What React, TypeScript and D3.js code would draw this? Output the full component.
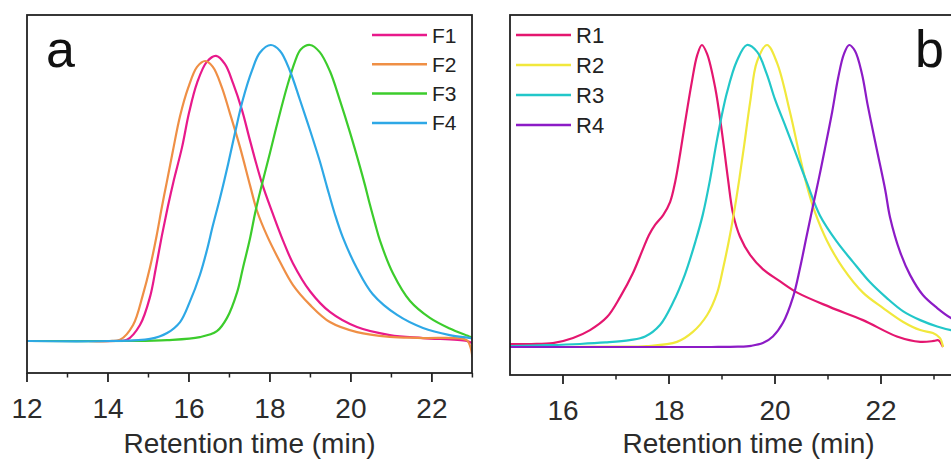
import React from "react";
import * as d3 from "d3";

type Pt = [number, number];

// Panel a series: [retention time (min), normalized signal]
const F1: Pt[] = [[12,0],[13.5,0],[14.2,0.0],[14.47,0.004],[14.79,0.054],[15.04,0.15],[15.18,0.245],[15.33,0.355],[15.48,0.455],[15.62,0.54],[15.83,0.655],[16.0,0.77],[16.2,0.872],[16.44,0.943],[16.67,0.963],[16.89,0.935],[17.09,0.87],[17.31,0.78],[17.51,0.676],[17.8,0.534],[18.07,0.43],[18.32,0.34],[18.57,0.262],[18.99,0.168],[19.48,0.098],[20.15,0.047],[20.96,0.02],[21.78,0.01],[22.86,0.0],[23.0,-0.008]];
const F2: Pt[] = [[12,0],[13.5,0],[14.05,0.0],[14.3,0.004],[14.62,0.054],[14.86,0.155],[15.04,0.25],[15.2,0.355],[15.33,0.452],[15.45,0.535],[15.6,0.64],[15.78,0.76],[15.98,0.855],[16.2,0.926],[16.4,0.946],[16.59,0.926],[16.81,0.858],[17.01,0.77],[17.26,0.655],[17.51,0.525],[17.68,0.44],[17.93,0.355],[18.25,0.267],[18.57,0.189],[18.99,0.122],[19.48,0.064],[20.15,0.03],[20.96,0.014],[21.78,0.01],[22.86,0.003],[22.95,-0.02],[23.0,-0.055]];
const F3: Pt[] = [[12,0],[14.5,0],[15.46,0.003],[16.27,0.013],[16.69,0.033],[16.94,0.078],[17.19,0.165],[17.33,0.245],[17.51,0.348],[17.63,0.43],[17.75,0.5],[17.85,0.555],[18.0,0.635],[18.2,0.745],[18.42,0.858],[18.62,0.945],[18.76,0.985],[18.99,1.0],[19.23,0.976],[19.48,0.912],[19.73,0.812],[19.98,0.703],[20.22,0.59],[20.35,0.525],[20.47,0.46],[20.6,0.395],[20.72,0.338],[21.04,0.228],[21.46,0.135],[21.95,0.078],[22.44,0.042],[22.94,0.014],[23.0,0.01]];
const F4: Pt[] = [[12,0],[14.0,0],[15.04,0.007],[15.46,0.027],[15.78,0.064],[16.02,0.132],[16.27,0.223],[16.44,0.305],[16.59,0.39],[16.77,0.485],[16.97,0.6],[17.14,0.705],[17.33,0.815],[17.56,0.915],[17.75,0.974],[18.02,1.0],[18.25,0.98],[18.49,0.914],[18.74,0.815],[18.99,0.712],[19.23,0.608],[19.41,0.52],[19.6,0.43],[19.8,0.35],[20.15,0.245],[20.54,0.158],[21.14,0.088],[21.78,0.044],[22.44,0.02],[22.94,0.01],[23.0,0.008]];

// Panel b series
const R1: Pt[] = [[15.0,0.01],[15.4,0.01],[15.81,0.013],[16.19,0.03],[16.51,0.056],[16.83,0.099],[17.08,0.166],[17.32,0.245],[17.51,0.325],[17.62,0.37],[17.74,0.405],[17.89,0.437],[18.02,0.48],[18.12,0.55],[18.21,0.64],[18.3,0.74],[18.43,0.877],[18.53,0.965],[18.62,1.0],[18.72,0.97],[18.87,0.86],[19.0,0.71],[19.11,0.56],[19.21,0.44],[19.34,0.365],[19.53,0.305],[19.77,0.258],[20.09,0.218],[20.42,0.18],[21.04,0.132],[21.66,0.089],[22.3,0.035],[22.74,0.017],[23.0,0.02],[23.08,0.022],[23.17,0.0]];
const R2: Pt[] = [[15.0,0.0],[16.0,0.0],[17.0,0.001],[17.58,0.003],[18.15,0.017],[18.45,0.05],[18.72,0.106],[18.91,0.18],[19.02,0.26],[19.15,0.37],[19.25,0.47],[19.33,0.56],[19.42,0.67],[19.53,0.81],[19.66,0.945],[19.85,1.0],[20.04,0.94],[20.28,0.78],[20.47,0.63],[20.6,0.535],[20.75,0.448],[20.98,0.352],[21.28,0.262],[21.66,0.18],[22.04,0.129],[22.42,0.083],[22.74,0.056],[22.98,0.046],[23.11,0.03],[23.17,0.0]];
const R3: Pt[] = [[15.0,0.003],[15.7,0.006],[16.32,0.01],[16.8,0.015],[17.26,0.023],[17.55,0.035],[17.83,0.073],[18.08,0.149],[18.3,0.24],[18.5,0.35],[18.64,0.44],[18.77,0.55],[18.91,0.69],[19.09,0.84],[19.28,0.947],[19.47,1.0],[19.66,0.978],[19.84,0.906],[20.0,0.82],[20.2,0.73],[20.4,0.638],[20.6,0.545],[20.85,0.435],[21.17,0.348],[21.47,0.282],[21.79,0.215],[22.11,0.162],[22.42,0.118],[22.74,0.089],[23.06,0.068],[23.32,0.056],[23.6,0.05]];
const R4: Pt[] = [[15.0,0.0],[16.0,0.0],[17.0,0.0],[18.0,0.0],[18.8,0.0],[19.3,0.001],[19.55,0.004],[19.77,0.013],[19.96,0.035],[20.15,0.08],[20.34,0.165],[20.47,0.26],[20.6,0.37],[20.72,0.47],[20.83,0.56],[20.94,0.655],[21.08,0.78],[21.19,0.89],[21.3,0.97],[21.4,1.0],[21.51,0.98],[21.64,0.905],[21.75,0.8],[21.92,0.655],[22.08,0.52],[22.17,0.43],[22.36,0.315],[22.55,0.238],[22.79,0.172],[23.06,0.129],[23.32,0.096],[23.6,0.075]];

const seriesNamesA = ["F1", "F2", "F3", "F4"];
const seriesNamesB = ["R1", "R2", "R3", "R4"];
const colorsA = ["#e8198b", "#ef8f45", "#3ccc2c", "#2ea8e6"];
const colorsB = ["#e4166f", "#f1e83c", "#22c7c9", "#8c1bc6"];
const ticksA = [12, 14, 16, 18, 20, 22];
const minorA = [13, 15, 17, 19, 21, 23];
const ticksB = [16, 18, 20, 22];
const minorB = [17, 19, 21, 23];

const FONT = "Arial, 'Liberation Sans', Helvetica, sans-serif";
const TXT = "#2b2b2b";

function Panel(props: {
  x0: number; x1: number; top: number; bottom: number;
  domain: [number, number]; base: number; peak: number;
  series: Pt[][]; names: string[]; colors: string[];
  ticks: number[]; minor: number[];
  legendX: number; legendY: number; legendGap: number; legendFont: number;
  label: string; labelX: number; id: string;
}) {
  const { x0, x1, top, bottom, domain, base, peak, series, names, colors, ticks, minor } = props;
  const x = d3.scaleLinear().domain(domain).range([x0, x1]);
  const y = d3.scaleLinear().domain([0, 1]).range([base, peak]);
  const line = d3.line<Pt>().x(d => x(d[0])).y(d => y(d[1])).curve(d3.curveCatmullRom.alpha(0.5));
  const cx = (x0 + x1) / 2;
  return (
    <g>
      <defs>
        <clipPath id={props.id}>
          <rect x={x0} y={top} width={x1 - x0} height={bottom - top} />
        </clipPath>
      </defs>
      <g clipPath={`url(#${props.id})`}>
        {series.map((s, i) => (
          <path key={i} d={line(s) || ""} fill="none" stroke={colors[i]} strokeWidth={2.2} strokeLinejoin="round" />
        ))}
      </g>
      <rect x={x0} y={top} width={x1 - x0} height={bottom - top} fill="none" stroke="#222" strokeWidth={1.8} />
      {ticks.map(t => (
        <g key={"M" + t}>
          <line x1={x(t)} x2={x(t)} y1={bottom} y2={bottom + 9} stroke="#222" strokeWidth={1.8} />
          <text x={x(t)} y={bottom + 45} textAnchor="middle" fontFamily={FONT} fontSize={28} fill={TXT}>{t}</text>
        </g>
      ))}
      {minor.map(t => (
        <line key={"m" + t} x1={x(t)} x2={x(t)} y1={bottom} y2={bottom + 4.5} stroke="#222" strokeWidth={1.5} />
      ))}
      <text x={cx} y={453} textAnchor="middle" fontFamily={FONT} fontSize={28} fill={TXT}>Retention time (min)</text>
      {names.map((n, i) => {
        const ly = props.legendY + i * props.legendGap;
        return (
          <g key={n}>
            <line x1={props.legendX} x2={props.legendX + 55} y1={ly} y2={ly} stroke={colors[i]} strokeWidth={2.5} />
            <text x={props.legendX + 60} y={ly + props.legendFont * 0.36} fontFamily={FONT} fontSize={props.legendFont} fill="#222">{n}</text>
          </g>
        );
      })}
      <text x={props.labelX} y={67} fontFamily={FONT} fontSize={52} fill="#111">{props.label}</text>
    </g>
  );
}

export default function App() {
  return (
    <div style={{ position: "absolute", left: 0, top: 0, width: 951, height: 465, background: "#fff" }}>
      <svg width={951} height={465} viewBox="0 0 951 465" style={{ display: "block" }}>
        <rect width={951} height={465} fill="#fff" />
        <Panel x0={27} x1={472} top={15} bottom={373} domain={[12, 22.99]} base={341} peak={45}
          series={[F1, F2, F3, F4]} names={seriesNamesA} colors={colorsA}
          ticks={ticksA} minor={minorA} legendX={372} legendY={35} legendGap={29.3} legendFont={21}
          label="a" labelX={46} id="clipA" />
        <Panel x0={510} x1={987} top={15} bottom={375} domain={[15, 24]} base={347} peak={45}
          series={[R1, R2, R3, R4]} names={seriesNamesB} colors={colorsB}
          ticks={ticksB} minor={minorB} legendX={516} legendY={35} legendGap={30} legendFont={22}
          label="b" labelX={915} id="clipB" />
      </svg>
    </div>
  );
}
